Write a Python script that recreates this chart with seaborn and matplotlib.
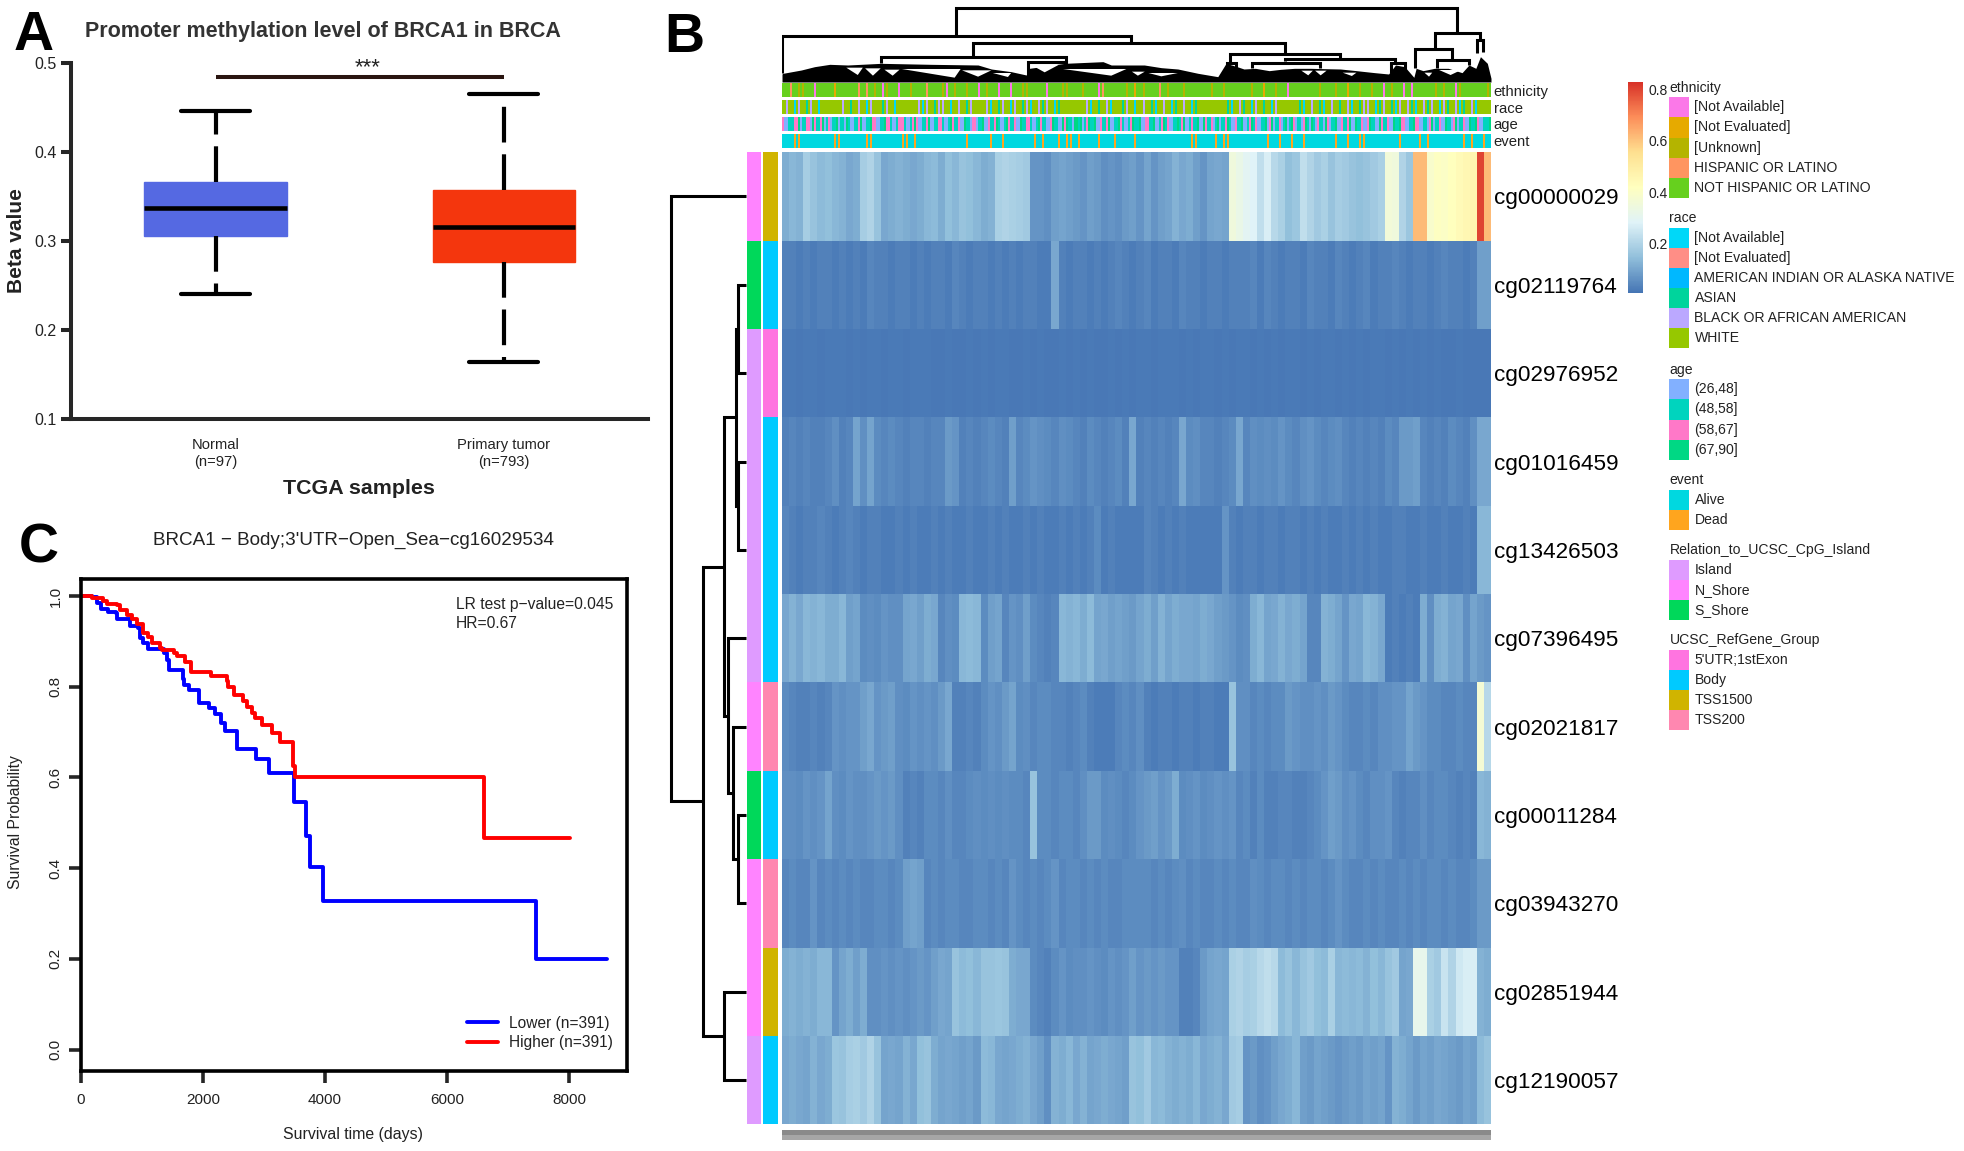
import numpy as np
import pandas as pd
import matplotlib
matplotlib.use("Agg")
import matplotlib.pyplot as plt
import seaborn as sns
from matplotlib.colors import LinearSegmentedColormap, ListedColormap
from matplotlib.patches import Rectangle

# panel A, box stats
box_groups = ["Normal\n(n=97)", "Primary tumor\n(n=793)"]
normal_stats = [0.2406, 0.3055, 0.337, 0.366, 0.446]
tumor_stats = [0.1637, 0.276, 0.3156, 0.3575, 0.465]

# panel C, Kaplan-Meier steps
lower_t = [0, 175, 257, 328, 448, 569, 585, 804, 930, 968, 1023, 1094, 1269, 1367, 1406, 1444, 1668, 1695, 1772,
           1936, 2100, 2199, 2297, 2363, 2554, 2871, 3074, 3484, 3686, 3746, 3965, 7451, 8626]
lower_s = [1.0, .997, .984, .971, .965, .962, .949, .934, .929, .907, .896, .884, .882, .874, .859, .837, .818, .804,
           .793, .765, .752, .739, .721, .702, .663, .640, .609, .546, .471, .402, .327, .199, .199]
higher_t = [0, 175, 366, 421, 585, 640, 749, 831, 913, 1023, 1094, 1170, 1296, 1334, 1531, 1570, 1706, 1805, 2133,
            2390, 2417, 2516, 2652, 2718, 2811, 2855, 2964, 3128, 3265, 3473, 3500, 6601, 8021]
higher_s = [1.0, .996, .988, .982, .980, .968, .958, .949, .938, .918, .910, .897, .885, .881, .875, .868, .855, .833,
            .824, .813, .800, .782, .769, .756, .743, .730, .716, .699, .679, .625, .600, .467, .467]

# panel B, methylation per column block (hundredths of beta), rows in display order
probes = ["cg00000029", "cg02119764", "cg02976952", "cg01016459", "cg13426503", "cg07396495",
          "cg02021817", "cg00011284", "cg03943270", "cg02851944", "cg12190057"]
cg00000029 = [15, 17, 16, 23, 20, 18, 19, 17, 16, 14,
              15, 23, 25, 20, 14, 15, 16, 15, 14, 15,
              17, 18, 15, 19, 17, 20, 19, 17, 15, 16,
              24, 25, 24, 23, 22, 10, 10, 9, 12, 13,
              12, 11, 10, 12, 11, 9, 10, 9, 11, 12,
              10, 13, 10, 12, 13, 16, 14, 15, 12, 10,
              13, 14, 13, 36, 34, 32, 31, 27, 30, 26,
              24, 19, 21, 27, 25, 22, 24, 20, 23, 22,
              20, 19, 20, 22, 24, 37, 36, 25, 21, 62,
              62, 40, 42, 41, 43, 45, 46, 47, 80, 62]
cg02119764 = [6, 6, 5, 6, 5, 6, 6, 5, 6, 5,
              6, 5, 7, 6, 6, 5, 6, 6, 5, 6,
              5, 6, 6, 5, 7, 6, 5, 6, 6, 5,
              6, 5, 6, 5, 6, 6, 5, 5, 14, 6,
              5, 6, 6, 5, 6, 5, 6, 7, 6, 5,
              6, 7, 5, 6, 6, 5, 7, 6, 6, 5,
              6, 6, 5, 6, 6, 6, 7, 5, 7, 6,
              5, 6, 6, 5, 7, 6, 6, 5, 7, 6,
              5, 6, 7, 5, 6, 6, 7, 6, 5, 6,
              6, 5, 6, 7, 6, 6, 5, 6, 12, 12]
cg02976952 = [4, 4, 3, 4, 4, 3, 4, 4, 4, 3,
              4, 3, 4, 4, 3, 4, 4, 3, 4, 4,
              4, 3, 3, 4, 3, 3, 4, 3, 4, 3,
              4, 4, 3, 3, 4, 3, 4, 3, 3, 4,
              3, 4, 3, 4, 3, 3, 4, 3, 4, 3,
              4, 4, 3, 4, 4, 4, 3, 4, 3, 4,
              4, 3, 4, 3, 4, 4, 3, 4, 3, 4,
              3, 4, 4, 3, 4, 3, 4, 4, 3, 4,
              3, 4, 3, 4, 4, 3, 4, 3, 4, 3,
              4, 3, 4, 3, 3, 4, 3, 3, 3, 3]
cg01016459 = [6, 7, 6, 7, 6, 6, 7, 9, 6, 7,
              13, 9, 13, 8, 7, 8, 7, 6, 7, 7,
              6, 7, 7, 11, 10, 6, 7, 6, 7, 8,
              7, 6, 12, 7, 8, 10, 9, 8, 7, 9,
              8, 7, 6, 8, 7, 6, 7, 8, 6, 14,
              6, 7, 6, 7, 6, 7, 14, 8, 9, 7,
              7, 6, 7, 8, 14, 7, 9, 8, 9, 8,
              10, 8, 7, 9, 10, 8, 7, 8, 9, 7,
              6, 7, 6, 7, 6, 8, 7, 11, 11, 12,
              7, 6, 7, 6, 8, 7, 6, 9, 14, 14]
cg13426503 = [7, 6, 5, 6, 6, 7, 6, 5, 6, 7,
              6, 5, 6, 6, 5, 5, 6, 5, 6, 5,
              5, 6, 5, 6, 5, 5, 6, 5, 5, 6,
              5, 6, 5, 5, 6, 5, 6, 5, 5, 6,
              5, 6, 5, 6, 8, 5, 6, 5, 5, 5,
              5, 7, 6, 5, 6, 5, 6, 5, 5, 5,
              5, 5, 10, 6, 5, 6, 6, 5, 6, 6,
              5, 6, 6, 5, 6, 5, 6, 5, 5, 6,
              5, 6, 5, 6, 5, 5, 6, 6, 5, 5,
              6, 5, 5, 6, 5, 5, 6, 5, 17, 17]
cg07396495 = [14, 16, 14, 17, 16, 17, 15, 15, 17, 12,
              13, 8, 9, 8, 10, 9, 9, 13, 14, 12,
              15, 14, 7, 9, 8, 17, 18, 17, 8, 12,
              13, 7, 10, 9, 12, 8, 7, 6, 7, 17,
              16, 17, 15, 18, 13, 14, 12, 13, 12, 11,
              13, 15, 12, 16, 13, 15, 14, 14, 13, 15,
              14, 12, 11, 10, 8, 9, 15, 17, 13, 14,
              16, 14, 15, 13, 7, 7, 16, 15, 13, 10,
              14, 13, 17, 16, 14, 5, 6, 5, 6, 5,
              15, 9, 15, 16, 13, 14, 9, 13, 11, 10]
cg02021817 = [8, 7, 6, 6, 7, 6, 7, 10, 9, 10,
              10, 12, 14, 10, 11, 12, 9, 8, 10, 9,
              10, 9, 11, 14, 6, 6, 7, 6, 8, 10,
              9, 11, 13, 8, 9, 7, 8, 8, 7, 7,
              6, 7, 8, 6, 5, 5, 5, 7, 8, 7,
              9, 6, 5, 6, 6, 5, 6, 6, 5, 6,
              6, 5, 5, 20, 9, 9, 7, 8, 7, 8,
              8, 11, 10, 9, 9, 10, 9, 11, 10, 8,
              7, 7, 8, 7, 9, 9, 10, 10, 13, 11,
              10, 8, 8, 7, 7, 8, 7, 7, 38, 26]
cg00011284 = [9, 9, 8, 10, 9, 10, 13, 9, 8, 10,
              9, 9, 10, 11, 10, 11, 9, 6, 7, 6,
              8, 8, 7, 9, 7, 7, 8, 9, 8, 9,
              8, 9, 8, 8, 7, 20, 8, 8, 7, 8,
              8, 7, 9, 11, 11, 8, 9, 8, 7, 8,
              10, 11, 12, 10, 11, 15, 8, 9, 10, 8,
              9, 10, 9, 10, 7, 8, 6, 8, 6, 6,
              7, 7, 6, 6, 7, 8, 10, 12, 11, 9,
              10, 8, 7, 9, 9, 10, 7, 6, 7, 7,
              9, 7, 8, 8, 7, 6, 7, 6, 17, 16]
cg03943270 = [7, 8, 7, 7, 10, 7, 8, 7, 8, 7,
              8, 7, 7, 8, 8, 7, 8, 12, 13, 12,
              7, 8, 7, 8, 8, 7, 7, 8, 8, 7,
              8, 7, 10, 8, 7, 8, 7, 8, 10, 7,
              8, 8, 7, 8, 7, 8, 7, 7, 8, 8,
              8, 8, 7, 8, 7, 8, 9, 7, 8, 7,
              7, 8, 7, 8, 7, 7, 9, 8, 7, 8,
              8, 7, 8, 7, 8, 8, 7, 8, 10, 8,
              7, 7, 8, 7, 8, 7, 7, 8, 7, 8,
              7, 8, 8, 7, 8, 7, 7, 8, 11, 11]
cg02851944 = [15, 16, 15, 16, 15, 17, 17, 10, 13, 15,
              12, 15, 9, 9, 10, 9, 10, 9, 10, 11,
              10, 12, 14, 13, 20, 18, 19, 17, 20, 20,
              21, 20, 15, 14, 14, 8, 7, 6, 8, 10,
              8, 9, 9, 10, 9, 8, 10, 9, 10, 12,
              10, 11, 10, 11, 10, 10, 6, 6, 7, 11,
              13, 14, 13, 24, 25, 23, 24, 26, 27, 26,
              18, 20, 17, 20, 22, 19, 18, 24, 17, 18,
              17, 18, 16, 19, 17, 20, 22, 13, 14, 33,
              33, 24, 22, 28, 25, 29, 30, 30, 16, 15]
cg12190057 = [14, 15, 14, 13, 16, 14, 15, 21, 20, 23,
              24, 22, 25, 20, 13, 14, 13, 16, 14, 19,
              20, 15, 13, 14, 13, 12, 13, 11, 18, 17,
              14, 13, 14, 15, 16, 14, 12, 9, 16, 15,
              17, 14, 16, 13, 14, 15, 14, 13, 12, 20,
              19, 22, 17, 18, 16, 15, 16, 15, 17, 14,
              15, 16, 14, 22, 23, 10, 11, 9, 10, 12,
              14, 15, 17, 12, 11, 13, 12, 11, 10, 11,
              12, 11, 13, 12, 13, 10, 16, 15, 13, 11,
              13, 12, 14, 13, 12, 11, 13, 12, 18, 20]
# my readings of the blues ran pale against the colour bar, these pairs correct them
read_levels = [0, .05, .15, .25, .35, .83]
true_levels = [.01, .025, .115, .2, .34, .83]

# column annotation, 354 narrow stripes (positions counted in pairs of stripes)
ethnicity_pos = [2, 4, 5, 8, 13, 19, 21, 23, 25, 26, 29, 32, 36, 40, 41, 43, 46, 49, 51, 54, 57, 60, 61, 66, 70, 71,
                 75, 79, 80, 86, 88, 90, 94, 96, 100, 107, 110, 117, 120, 123, 126, 134, 138, 141, 144, 147, 150,
                 152, 155, 157, 163, 165, 168, 169, 176]
ethnicity_cat = [3, 2, 2, 0, 1, 3, 3, 2, 0, 2, 0, 2, 3, 2, 0, 2, 2, 0, 2, 0, 0, 2, 2, 0, 2, 2,
                 2, 0, 3, 2, 1, 2, 3, 2, 2, 2, 2, 2, 1, 2, 0, 2, 2, 1, 2, 2, 0,
                 2, 0, 0, 2, 2, 0, 2, 2]
race_idx = [5, 4, 5, 0, 4, 5, 3, 4, 5, 0,
            5, 5, 5, 5, 5, 4, 5, 3, 5, 4,
            5, 0, 4, 5, 5, 3, 4, 5, 0, 5,
            5, 5, 5, 5, 4, 0, 4, 5, 3, 4,
            4, 5, 0, 5, 4, 5, 3, 4, 5, 5,
            5, 4, 0, 5, 3, 4, 5, 0, 4, 5,
            3, 4, 0, 5, 4, 3, 4, 5, 0, 3,
            5, 5, 5, 5, 5, 5, 4, 0, 5, 3,
            5, 4, 0, 5, 5, 3, 4, 5, 0, 5,
            4, 5, 3, 0, 5, 4, 5, 0, 3, 5,
            4, 5, 0, 3, 5, 5, 5, 5, 5, 5,
            5, 3, 0, 5, 4, 3, 5, 0, 4, 5,
            3, 5, 0, 4, 5, 5, 5, 5, 5, 3,
            0, 5, 4, 5, 3, 0, 5, 4, 5, 3,
            5, 4, 0, 5, 3, 4, 4, 5, 0, 3,
            4, 5, 3, 0, 4, 5, 4, 3, 0, 5,
            4, 3, 4, 5, 0, 4, 3, 5, 4, 0,
            3, 5, 4, 0, 5, 5, 5]
age_idx = [2, 0, 1, 2, 3, 1, 2, 0, 2, 1,
           3, 1, 0, 1, 0, 1, 3, 0, 1, 2,
           0, 1, 3, 2, 0, 1, 2, 1, 0, 2,
           2, 0, 1, 3, 0, 1, 2, 0, 1, 2,
           1, 0, 3, 1, 2, 0, 1, 0, 2, 1,
           3, 0, 1, 2, 1, 0, 3, 1, 2, 0,
           1, 2, 1, 0, 3, 1, 0, 2, 1, 0,
           3, 3, 1, 3, 1, 0, 2, 1, 3, 0,
           1, 2, 0, 1, 3, 1, 0, 2, 1, 3,
           0, 2, 1, 0, 1, 3, 2, 0, 1, 1,
           3, 0, 2, 1, 0, 3, 1, 2, 1, 0,
           1, 3, 0, 2, 1, 0, 1, 3, 2, 0,
           1, 0, 3, 1, 2, 1, 0, 3, 0, 1,
           2, 1, 3, 0, 1, 0, 2, 1, 3, 0,
           1, 2, 0, 3, 1, 0, 2, 1, 0, 3,
           1, 2, 0, 1, 3, 2, 0, 1, 2, 0,
           1, 0, 3, 1, 2, 0, 1, 0, 3, 1,
           2, 0, 1, 3, 0, 1, 1]
dead_pos = [3, 4, 13, 14, 21, 22, 30, 31, 33, 46, 52, 55, 63, 65, 69, 71, 72, 74, 79, 83, 88, 102, 103, 108, 110, 111,
            121, 124, 127, 130, 138, 141, 144, 145, 154, 159, 161, 170, 172, 175]

# row annotation, indexes into the legend lists
relation_idx = [1, 2, 0, 0, 0, 0, 1, 2, 1, 1, 0]
refgene_idx = [2, 1, 0, 1, 1, 1, 3, 1, 3, 2, 1]

ethnicity_labels = ["[Not Available]", "[Not Evaluated]", "[Unknown]", "HISPANIC OR LATINO", "NOT HISPANIC OR LATINO"]
ethnicity_colors = ["#FB78E8", "#E6AA00", "#B4B400", "#FF9560", "#66D01E"]
race_labels = ["[Not Available]", "[Not Evaluated]", "AMERICAN INDIAN OR ALASKA NATIVE", "ASIAN",
               "BLACK OR AFRICAN AMERICAN", "WHITE"]
race_colors = ["#00D8F8", "#FF8E86", "#00B8FF", "#00D49C", "#BBA8FF", "#96C800"]
age_labels = ["(26,48]", "(48,58]", "(58,67]", "(67,90]"]
age_colors = ["#82B0FF", "#00D4BE", "#FF78C8", "#00D884"]
event_labels = ["Alive", "Dead"]
event_colors = ["#00D8E0", "#FFA51E"]
relation_labels = ["Island", "N_Shore", "S_Shore"]
relation_colors = ["#DF9BFF", "#FF84FF", "#00D85A"]
refgene_labels = ["5'UTR;1stExon", "Body", "TSS1500", "TSS200"]
refgene_colors = ["#FF74E0", "#00CAFF", "#D0B400", "#FF87B0"]
heat_colors = ["#4575B4", "#91BFDB", "#E0F3F8", "#FFFFBF", "#FEE090", "#FC8D59", "#D73027"]

# row dendrogram: children (leaf = row number, 11+ = earlier merge) and height
row_left = [1, 3, 11, 7, 6, 5, 13, 9, 17, 0]
row_right = [2, 4, 12, 8, 14, 15, 16, 10, 18, 19]
row_height = [.108, .108, .139, .112, .175, .242, .292, .296, .575, 1.0]

# column dendrogram: upper links, outline of the dense lower part, white pockets inside it
col_xl = [388, 10, 425, 225, 545, 985, 978, 1105, 1032, 1335, 1430, 1388, 1435, 1522]
col_xr = [1478, 768, 1105, 628, 628, 1225, 998, 1345, 1180, 1365, 1528, 1468, 1505, 1535]
col_top = [25, 108, 130, 172, 187, 163, 188, 178, 190, 190, 98, 147, 180, 120]
col_lbot = [108, 218, 172, 190, 225, 188, 225, 182, 205, 220, 147, 205, 205, 160]
col_rbot = [98, 130, 163, 187, 195, 178, 225, 190, 205, 220, 120, 180, 195, 155]
mass_x = [9, 11, 51, 80, 113, 152, 225, 334, 436, 465, 508, 541, 548, 625, 708, 726, 798, 835, 871, 915, 958, 976, 1000,
          1015, 1040, 1070, 1095, 1125, 1160, 1190, 1225, 1260, 1300, 1330, 1345, 1365, 1385, 1390, 1405, 1430, 1460,
          1490, 1505, 1520, 1530, 1545, 1553]
mass_y = [222, 220, 210, 200, 193, 195, 190, 193, 195, 207, 215, 225, 205, 190, 185, 195, 195, 203, 207, 220, 230, 190,
          200, 207, 205, 212, 208, 205, 205, 206, 207, 212, 218, 222, 195, 200, 232, 205, 212, 205, 205,
          218, 195, 205, 170, 190, 235]
pocket_x0 = [149, 190, 232, 270, 401, 468, 552, 621, 771, 807, 1140, 1170, 1230, 1408, 1440]
pocket_x1 = [185, 224, 265, 398, 465, 508, 611, 759, 799, 871, 1165, 1195, 1260, 1425, 1488]
pocket_xa = [174, 207, 250, 385, 436, 501, 581, 726, 784, 835, 1155, 1182, 1250, 1418, 1465]
pocket_top = [203, 205, 209, 207, 211, 219, 195, 207, 215, 219, 212, 212, 218, 218, 210]
pocket_low = [225, 227, 227, 233, 230, 231, 217, 227, 227, 229, 226, 226, 228, 230, 225]

W, H = 1965, 1151
sns.set_theme(style="white")
plt.rcParams["font.family"] = ["Liberation Sans", "DejaVu Sans"]
plt.rcParams["lines.scale_dashes"] = False
fig = plt.figure(figsize=(W / 100, H / 100), dpi=100)


def add_ax(x0, y0, x1, y1):
    return fig.add_axes([x0 / W, 1 - y1 / H, (x1 - x0) / W, (y1 - y0) / H])


def txt(x, y, s, **kw):
    kw.setdefault("ha", "center")
    kw.setdefault("va", "center")
    fig.text(x / W, 1 - y / H, s, **kw)


for letter, lx, ly in [("A", 14, 50), ("B", 664, 52), ("C", 19, 563)]:
    txt(lx, ly, letter, ha="left", va="baseline", fontsize=40, fontweight="bold", color="black")

# A: boxplot
ax = add_ax(71.5, 63.3, 648, 419)
box_df = pd.DataFrame({"group": [box_groups[0]] * 5 + [box_groups[1]] * 5, "beta": normal_stats + tumor_stats})
box_cols = ["#5569E2", "#F4360D"]
sns.boxplot(data=box_df, x="group", y="beta", hue="group", palette=box_cols, saturation=1, width=0.495, whis=(0, 100),
            showfliers=False, legend=False, ax=ax, capwidths=0.24,
            whiskerprops={"linestyle": (0, (25.7, 8.5)), "linewidth": 3.0, "color": "black"},
            capprops={"linewidth": 3.0, "color": "black"},
            medianprops={"linewidth": 3.3, "color": "black"},
            boxprops={"linewidth": 1})
for patch, col in zip(ax.patches, box_cols):
    patch.set_edgecolor(col)
ax.set_xlim(-0.5, 1.5)
ax.set_ylim(0.1, 0.5)
ax.set_yticks([0.1, 0.2, 0.3, 0.4, 0.5])
sns.despine(ax=ax)
for side in ["left", "bottom"]:
    ax.spines[side].set_linewidth(2.9)
ax.tick_params(axis="y", length=7.5, width=2.9, labelsize=11.5, pad=3, left=True, labelcolor="#222222")
ax.tick_params(axis="x", length=0, labelsize=10.6, pad=14, labelcolor="#222222")
ax.set_xlabel("")
ax.set_ylabel("")
ax.plot([0, 1], [0.4845, 0.4845], color="#2A1510", lw=2.9, clip_on=False, solid_capstyle="butt")
txt(368, 68, "***", fontsize=16, color="#222222")
txt(323, 32, "Promoter methylation level of BRCA1 in BRCA", fontsize=15.5, fontweight="bold", color="#333333")
txt(17, 240.7, "Beta value", fontsize=15, fontweight="bold", rotation=90, color="#222222")
txt(359, 488, "TCGA samples", fontsize=15.4, fontweight="bold", color="#222222")

# C: survival curves
ax = add_ax(81, 578.7, 627, 1070.5)
km_df = pd.DataFrame({"time": lower_t + higher_t, "surv": lower_s + higher_s,
                      "group": ["Lower"] * len(lower_t) + ["Higher"] * len(higher_t)})
sns.lineplot(data=km_df, x="time", y="surv", hue="group", palette={"Lower": "#0000FF", "Higher": "#FF0000"},
             estimator=None, sort=False, drawstyle="steps-post", linewidth=2.8, legend=False, ax=ax)
ax.set_xlim(0, 8950)
ax.set_ylim(-0.046, 1.038)
ax.set_xticks([0, 2000, 4000, 6000, 8000])
ax.set_yticks([0, 0.2, 0.4, 0.6, 0.8, 1.0])
for spine in ax.spines.values():
    spine.set_visible(True)
    spine.set_linewidth(2.6)
    spine.set_color("black")
ax.tick_params(axis="both", length=8.3, width=2.6, labelsize=11, bottom=True, left=True, labelcolor="#222222")
ax.tick_params(axis="x", pad=8)
ax.tick_params(axis="y", pad=5)
plt.setp(ax.get_yticklabels(), rotation=90, va="center")
ax.set_xlabel("")
ax.set_ylabel("")
ax.legend(ax.get_lines()[:2], ["Lower (n=391)", "Higher (n=391)"], loc="lower right",
          bbox_to_anchor=(621 / W, 1 - 1058 / H), bbox_transform=fig.transFigure, frameon=False, fontsize=11.2,
          handlelength=2, handletextpad=0.7, labelspacing=0.28, borderpad=0, labelcolor="#222222")
txt(353, 540, "BRCA1 \u2212 Body;3'UTR\u2212Open_Sea\u2212cg16029534", fontsize=13.6, color="#222222")
txt(456, 605, "LR test p\u2212value=0.045", ha="left", fontsize=11.25, color="#222222")
txt(456, 624, "HR=0.67", ha="left", fontsize=11.25, color="#222222")
txt(16, 822, "Survival Probability", rotation=90, fontsize=11.3, color="#222222")
txt(353, 1134, "Survival time (days)", fontsize=11.4, color="#222222")

# B: main heatmap
heat_cmap = LinearSegmentedColormap.from_list("rdylbu_r", heat_colors)
heat = np.array([cg00000029, cg02119764, cg02976952, cg01016459, cg13426503, cg07396495,
                 cg02021817, cg00011284, cg03943270, cg02851944, cg12190057]) / 100
heat = np.interp(heat, read_levels, true_levels)
ax = add_ax(782, 152.3, 1491, 1124.3)
cax = add_ax(1628, 81.5, 1643, 293)
sns.heatmap(heat, cmap=heat_cmap, vmin=0.01, vmax=0.83, ax=ax, cbar_ax=cax, xticklabels=False, yticklabels=probes)
ax.yaxis.tick_right()
ax.tick_params(axis="y", length=0, labelsize=16.2, pad=2, labelrotation=0, labelcolor="black")
cax.set_yticks([0.2, 0.4, 0.6, 0.8])
cax.tick_params(axis="y", length=0, labelsize=10, pad=4, labelcolor="#222222")

# top annotation strips, thin stripes on the dominant class
ethnicity_full = np.full(354, 4)
ethnicity_full[np.array(ethnicity_pos) * 2] = ethnicity_cat
event_full = np.zeros(354, dtype=int)
event_full[np.array(dead_pos) * 2] = 1
race_full = np.column_stack([race_idx, np.full(177, 5)]).ravel()
age_full = np.column_stack([age_idx, np.roll(age_idx, 3)]).ravel()
strips = [("ethnicity", ethnicity_full, ethnicity_colors, 83.3), ("race", race_full, race_colors, 100.3),
          ("age", age_full, age_colors, 117), ("event", event_full, event_colors, 134)]
for name, idx, cols, y0 in strips:
    ax = add_ax(782, y0, 1491, y0 + 14)
    sns.heatmap(np.array(idx).reshape(1, -1), cmap=ListedColormap(cols), vmin=-0.5, vmax=len(cols) - 0.5, cbar=False,
                ax=ax, xticklabels=False, yticklabels=[name])
    ax.yaxis.tick_right()
    ax.tick_params(axis="y", length=0, labelsize=10.7, pad=2, labelrotation=0, labelcolor="#222222")

# left annotation strips
for idx, cols, x0, x1 in [(relation_idx, relation_colors, 747, 761), (refgene_idx, refgene_colors, 763.5, 778)]:
    ax = add_ax(x0, 152.3, x1, 1124.3)
    sns.heatmap(np.array(idx).reshape(-1, 1), cmap=ListedColormap(cols), vmin=-0.5, vmax=len(cols) - 0.5, cbar=False,
                ax=ax, xticklabels=False, yticklabels=False)

# row dendrogram
ax = add_ax(671, 152.3, 746, 1124.3)
ax.set_xlim(1, 0)
ax.set_ylim(11, 0)
ax.axis("off")
pos = {i: i + 0.5 for i in range(11)}
hgt = {i: 0.0 for i in range(11)}
for k, (a, b, h) in enumerate(zip(row_left, row_right, row_height)):
    ax.plot([hgt[a], h, h, hgt[b]], [pos[a], pos[a], pos[b], pos[b]], color="black", lw=2.2, clip_on=False,
            solid_joinstyle="miter", solid_capstyle="butt")
    pos[11 + k] = (pos[a] + pos[b]) / 2
    hgt[11 + k] = h

# column dendrogram
ax = add_ax(782, 0, 1491, 82)
ax.set_xlim(9, 1553)
ax.set_ylim(246, 0)
ax.axis("off")
ax.fill_between(mass_x, mass_y, 246, color="black", lw=0)
for x0, x1, xa, top, low in zip(pocket_x0, pocket_x1, pocket_xa, pocket_top, pocket_low):
    ax.fill([x0, x1, xa], [top, top, low], color="white", lw=0)
for xl, xr, top, lb, rb in zip(col_xl, col_xr, col_top, col_lbot, col_rbot):
    ax.plot([xl, xl, xr, xr], [lb, top, top, rb], color="black", lw=2.2, solid_joinstyle="miter", solid_capstyle="butt")

# sample names are unreadable in the source, only a grey strip is left
for y0, y1, grey in [(1130, 1135, "#8A8A8A"), (1135, 1140, "#A6A6A6")]:
    ax = add_ax(782, y0, 1491, y1)
    ax.set_facecolor(grey)
    ax.set_xticks([])
    ax.set_yticks([])
    sns.despine(ax=ax, left=True, bottom=True)

# legends
groups = [("ethnicity", ethnicity_labels, ethnicity_colors, 87.7), ("race", race_labels, race_colors, 218),
          ("age", age_labels, age_colors, 369.7), ("event", event_labels, event_colors, 480),
          ("Relation_to_UCSC_CpG_Island", relation_labels, relation_colors, 550.2),
          ("UCSC_RefGene_Group", refgene_labels, refgene_colors, 640.4)]
for title, labels, cols, ty in groups:
    txt(1669.5, ty, title, ha="left", fontsize=10.1, color="#222222")
    for i, (lab, col) in enumerate(zip(labels, cols)):
        yc = ty + 19.7 + 20.1 * i
        fig.add_artist(Rectangle((1669.5 / W, 1 - (yc + 10.05) / H), 20 / W, 20.1 / H, transform=fig.transFigure,
                                 facecolor=col, edgecolor="none"))
        txt(1694.5, yc, lab, ha="left", fontsize=10.1, color="#222222")

fig.savefig("out.png", dpi=100)
